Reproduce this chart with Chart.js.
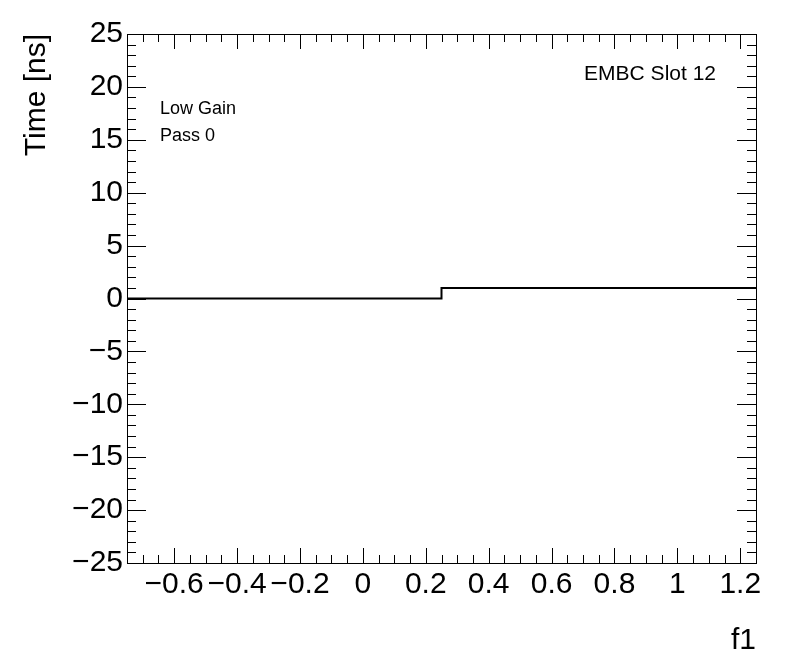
<!DOCTYPE html>
<html>
<head>
<meta charset="utf-8">
<script src="https://cdn.jsdelivr.net/npm/chart.js@4/dist/chart.umd.min.js"></script>
<style>
    html, body { margin: 0; padding: 0; background: #fff; }
    canvas { display: block; }
</style>
</head>
<body>
<canvas id="c" width="796" height="672"></canvas>
<script>
// histogram bin edges and contents
const binEdges = [-0.75, 0.25, 1.25]
const binValues = [0, 1]
// axis ranges and labelled ticks
const xRange = [-0.75, 1.25]
const yRange = [-25, 25]
const xTickValues = [-0.6, -0.4, -0.2, 0, 0.2, 0.4, 0.6, 0.8, 1, 1.2]
const yTickValues = [-25, -20, -15, -10, -5, 0, 5, 10, 15, 20, 25]
const xMinorStep = 0.05
const yMinorStep = 1
// texts
const xTitle = 'f1'
const yTitle = 'Time [ns]'
const legendLines = ['Low Gain', 'Pass 0']
const slotLabel = 'EMBC Slot 12'

const FONT = '"Liberation Sans", Arial, Helvetica, sans-serif'

// stepped points: one per bin start, plus the last edge
const points = binValues.map((v, i) => ({ x: binEdges[i], y: v }))
points.push({ x: binEdges[binEdges.length - 1], y: binValues[binValues.length - 1] })

const minus = s => s.replace('-', '\u2212')
const isMajor = (v, list) => list.some(t => Math.abs(t - v) < 1e-6)

const frameTicks = {
    id: 'frameTicks',
    afterDatasetsDraw(chart) {
        const { ctx, chartArea: a, scales: { x, y } } = chart
        ctx.save()
        ctx.strokeStyle = '#000'
        ctx.lineWidth = 1
        ctx.beginPath()
        // x ticks, bottom and top
        const nx = Math.round((xRange[1] - xRange[0]) / xMinorStep)
        for (let i = 0; i <= nx; i++) {
            const v = xRange[0] + i * xMinorStep
            const len = isMajor(v, xTickValues) ? 15 : 8
            const px = Math.round(x.getPixelForValue(v)) + 0.5
            ctx.moveTo(px, a.bottom)
            ctx.lineTo(px, a.bottom - len)
            ctx.moveTo(px, a.top)
            ctx.lineTo(px, a.top + len)
        }
        // y ticks, left and right
        const ny = Math.round((yRange[1] - yRange[0]) / yMinorStep)
        for (let i = 0; i <= ny; i++) {
            const v = yRange[0] + i * yMinorStep
            const len = isMajor(v, yTickValues) ? 19 : 9
            const py = Math.round(y.getPixelForValue(v)) + 0.5
            ctx.moveTo(a.left, py)
            ctx.lineTo(a.left + len, py)
            ctx.moveTo(a.right, py)
            ctx.lineTo(a.right - len, py)
        }
        ctx.stroke()
        // frame
        ctx.strokeRect(Math.round(a.left) + 0.5, Math.round(a.top) + 0.5,
            Math.round(a.right - a.left), Math.round(a.bottom - a.top))
        // texts
        ctx.fillStyle = '#000'
        ctx.textBaseline = 'alphabetic'
        ctx.textAlign = 'left'
        ctx.font = '18px ' + FONT
        ctx.fillText(legendLines[0], 160, 114)
        ctx.fillText(legendLines[1], 160, 141)
        ctx.textAlign = 'right'
        ctx.font = '21px ' + FONT
        ctx.fillText(slotLabel, 716, 80)
        ctx.restore()
    }
}

new Chart(document.getElementById('c'), {
    type: 'line',
    data: {
        datasets: [
            {
                data: points,
                stepped: 'before',
                borderColor: '#000',
                borderWidth: 2,
                pointRadius: 0,
                fill: false
            }
        ]
    },
    options: {
        responsive: false,
        animation: false,
        layout: { padding: { left: 0, top: 34, right: 40, bottom: 0 } },
        plugins: {
            legend: { display: false },
            tooltip: { enabled: false }
        },
        scales: {
            x: {
                type: 'linear',
                min: xRange[0],
                max: xRange[1],
                grid: { display: false, drawTicks: false },
                border: { display: false },
                afterBuildTicks: s => { s.ticks = xTickValues.map(v => ({ value: v })) },
                ticks: {
                    maxRotation: 0,
                    autoSkip: false,
                    padding: 4,
                    color: '#000',
                    font: { family: FONT, size: 30 },
                    callback: v => minus(String(Math.round(v * 100) / 100))
                },
                title: {
                    display: true,
                    text: xTitle,
                    align: 'end',
                    color: '#000',
                    font: { family: FONT, size: 30 },
                    padding: { top: 0, bottom: 13 }
                },
                afterFit: s => { s.height = 109 }
            },
            y: {
                type: 'linear',
                min: yRange[0],
                max: yRange[1],
                grid: { display: false, drawTicks: false },
                border: { display: false },
                afterBuildTicks: s => { s.ticks = yTickValues.map(v => ({ value: v })) },
                ticks: {
                    padding: 4,
                    color: '#000',
                    font: { family: FONT, size: 30 },
                    callback: v => minus(String(v))
                },
                title: {
                    display: true,
                    text: yTitle,
                    align: 'end',
                    color: '#000',
                    font: { family: FONT, size: 30 },
                    padding: { top: 19, bottom: 0 }
                },
                afterFit: s => { s.width = 127 }
            }
        }
    },
    plugins: [frameTicks]
})
</script>
</body>
</html>
